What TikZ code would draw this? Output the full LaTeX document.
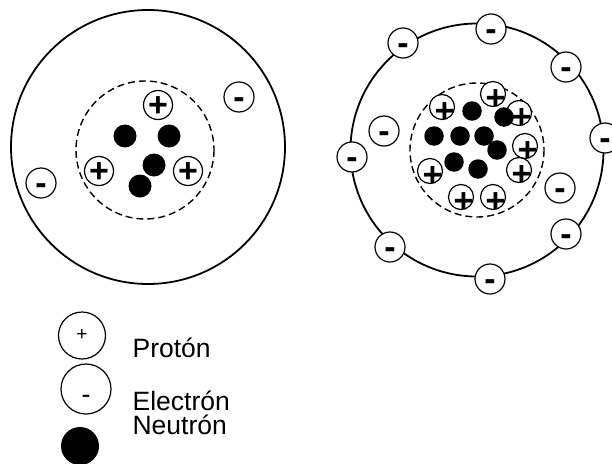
\documentclass[tikz,border=0pt]{standalone}
\usepackage{fontspec}
\setmainfont{Liberation Sans}

\begin{document}
\begin{tikzpicture}[x=1pt, y=-1pt, line width=1.2pt,
    shell/.style={line width=1.8pt},
    nucleus/.style={line width=1.4pt, dash pattern=on 7pt off 4pt},
    plussign/.style={font=\fontsize{34}{34}\selectfont\bfseries, inner sep=0pt, yshift=-2pt},
    minussign/.style={font=\fontsize{34}{34}\selectfont\bfseries, inner sep=0pt, yshift=-6pt},
    legendsign/.style={inner sep=0pt},
    particle/.style={circle, draw, fill=white, inner sep=0pt},
    electron/.style={particle, minimum size=30pt, label={[minussign]center:-}},
    proton/.style={particle, minimum size=29pt, label={[plussign]center:+}},
    smallproton/.style={particle, minimum size=25pt, label={[plussign, xshift=2.5pt, yshift=-4pt]center:+}},
    neutron/.style={circle, fill=black, inner sep=0pt, minimum size=23pt},
    smallneutron/.style={neutron, minimum size=19.5pt},
    keytext/.style={anchor=base west, inner sep=0pt, font=\fontsize{26.5}{30}\selectfont}]

\useasboundingbox (0,0) rectangle (612,463);

% Left atom: shell and nucleus
\draw[shell] (148,147) circle (137);
\draw[nucleus] (145,150) circle (69);

\foreach \x/\y [count=\n] in {158/105, 99/171, 188/171}
    \node[proton] (pL\n) at (\x,\y) {};
\foreach \x/\y [count=\n] in {125/136, 169/136, 154/165, 140/186}
    \node[neutron] (nL\n) at (\x,\y) {};
\foreach \x/\y [count=\n] in {239/97, 41/183}
    \node[electron] (eL\n) at (\x,\y) {};

% Right atom: shell and nucleus
\draw[shell] (477,150) circle (126.5);
\draw[nucleus] (477,150) circle (67);

% protons first, neutrons sit on top of them
\foreach \x/\y [count=\n] in {442/107, 493/94, 519/113, 525/146, 519/170, 493/197, 461/197, 430/171}
    \node[smallproton] (pR\n) at (\x,\y) {};
\foreach \x/\y [count=\n] in {472/111, 504/117, 434/136, 460/136, 484/136, 497/150, 454/162, 478/169}
    \node[smallneutron] (nR\n) at (\x,\y) {};
\foreach \x/\y [count=\n] in {403/43, 491/29, 566/67, 605/138, 352/157, 384/131, 560/188, 566/234, 490/279, 390/247}
    \node[electron] (eR\n) at (\x,\y) {};

% Key
\node[particle, minimum size=47pt,
      label={[legendsign, font=\fontsize{19}{19}\selectfont]center:+}] (keyP) at (82,335.5) {};
\node[particle, minimum size=50pt,
      label={[legendsign, font=\fontsize{27}{27}\selectfont, yshift=-10pt]center:-}] (keyE) at (86,389) {};
\node[neutron, minimum size=38pt] (keyN) at (80,446) {};

\node[keytext] (txtP) at (132,357) {Protón};
\node[keytext] (txtE) at (132,410) {Electrón};
\node[keytext] (txtN) at (132,434) {Neutrón};

\end{tikzpicture}
\end{document}
